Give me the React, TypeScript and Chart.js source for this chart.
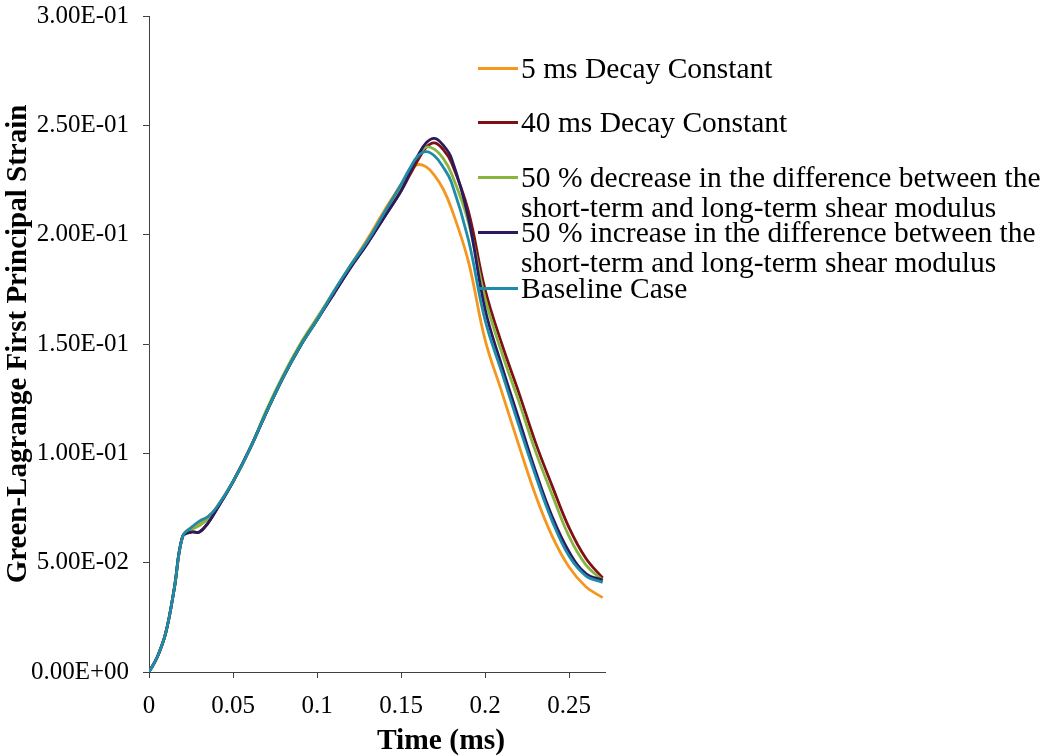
import React, { useEffect, useRef } from "react";
import { Chart, registerables } from "chart.js";

Chart.register(...registerables);

// ---- data ----
const time = [0, 0.005, 0.01, 0.015, 0.02, 0.025, 0.03, 0.035, 0.04, 0.05, 0.06, 0.07, 0.08, 0.09, 0.1, 0.11, 0.12, 0.13, 0.14, 0.15, 0.155, 0.16, 0.165, 0.17, 0.175, 0.18, 0.19, 0.2, 0.21, 0.22, 0.23, 0.24, 0.25, 0.26, 0.27];

const decay5ms = [0, 0.007, 0.018, 0.038, 0.062, 0.066, 0.068, 0.071, 0.075, 0.087, 0.102, 0.119, 0.135, 0.149, 0.161, 0.174, 0.186, 0.198, 0.211, 0.223, 0.229, 0.232, 0.231, 0.227, 0.221, 0.212, 0.188, 0.152, 0.128, 0.104, 0.081, 0.062, 0.048, 0.039, 0.034];
const decay40ms = [0, 0.007, 0.018, 0.038, 0.062, 0.064, 0.064, 0.068, 0.074, 0.087, 0.102, 0.119, 0.135, 0.149, 0.161, 0.173, 0.185, 0.196, 0.208, 0.220, 0.227, 0.234, 0.240, 0.242, 0.239, 0.233, 0.211, 0.175, 0.150, 0.128, 0.105, 0.085, 0.066, 0.052, 0.043];
const decrease50 = [0, 0.007, 0.018, 0.038, 0.062, 0.065, 0.067, 0.070, 0.075, 0.087, 0.102, 0.120, 0.136, 0.150, 0.162, 0.174, 0.186, 0.197, 0.209, 0.221, 0.229, 0.236, 0.240, 0.239, 0.235, 0.228, 0.206, 0.171, 0.146, 0.124, 0.101, 0.081, 0.062, 0.049, 0.042];
const increase50 = [0, 0.007, 0.018, 0.038, 0.062, 0.064, 0.064, 0.068, 0.074, 0.087, 0.102, 0.119, 0.135, 0.149, 0.161, 0.173, 0.185, 0.196, 0.208, 0.220, 0.228, 0.236, 0.242, 0.244, 0.241, 0.235, 0.208, 0.166, 0.140, 0.116, 0.092, 0.071, 0.055, 0.045, 0.042];
const baseline = [0, 0.007, 0.018, 0.038, 0.062, 0.066, 0.069, 0.071, 0.075, 0.087, 0.102, 0.119, 0.135, 0.149, 0.161, 0.174, 0.186, 0.197, 0.210, 0.223, 0.230, 0.236, 0.238, 0.236, 0.231, 0.224, 0.198, 0.161, 0.137, 0.113, 0.090, 0.069, 0.053, 0.044, 0.041];

const seriesLabels = [
  ["5 ms Decay Constant"],
  ["40 ms Decay Constant"],
  ["50 % decrease in the difference between the", "short-term and long-term shear modulus"],
  ["50 % increase in the difference between the", "short-term and long-term shear modulus"],
  ["Baseline Case"],
];
const seriesValues = [decay5ms, decay40ms, decrease50, increase50, baseline];

const xTickValues = [0, 0.05, 0.1, 0.15, 0.2, 0.25];
const yTickValues = [0, 0.05, 0.1, 0.15, 0.2, 0.25, 0.3];

const xTitle = "Time (ms)";
const yTitle = "Green-Lagrange First Principal Strain";

// ---- styles ----
const colors = ["#F5961E", "#7E1114", "#8AB440", "#2B1B5E", "#1E8CA8"];
const FONT = '"Liberation Serif", "Times New Roman", serif';
const legendTops = [53, 107, 162, 217, 273];

function sci(v: number): string {
  if (Math.abs(v) < 1e-12) return "0.00E+00";
  let exp = Math.floor(Math.log10(Math.abs(v)) + 1e-9);
  let m = v / Math.pow(10, exp);
  if (Math.round(m * 100) / 100 >= 10) {
    exp += 1;
    m = v / Math.pow(10, exp);
  }
  const e = Math.abs(exp).toString().padStart(2, "0");
  return `${m.toFixed(2)}E${exp < 0 ? "-" : "+"}${e}`;
}

const xTitlePlugin = {
  id: "xTitlePlugin",
  afterDraw(chart: any) {
    const { ctx } = chart;
    ctx.save();
    ctx.font = `bold 29.5px ${FONT}`;
    ctx.fillStyle = "#000";
    ctx.textAlign = "center";
    ctx.textBaseline = "middle";
    ctx.fillText(xTitle, 441, 741);
    ctx.restore();
  },
};

export default function App() {
  const ref = useRef<HTMLCanvasElement | null>(null);

  useEffect(() => {
    if (!ref.current) return;
    const chart = new Chart(ref.current, {
      type: "line",
      data: {
        datasets: seriesValues.map((vals, i) => ({
          label: seriesLabels[i].join(" "),
          data: time.map((t, j) => ({ x: t, y: vals[j] })),
          borderColor: colors[i],
          backgroundColor: colors[i],
          borderWidth: 2.8,
          pointRadius: 0,
          tension: 0.4,
          fill: false,
          order: seriesValues.length - i,
        })),
      },
      plugins: [xTitlePlugin],
      options: {
        animation: false,
        responsive: false,
        maintainAspectRatio: false,
        layout: { padding: { left: 0, right: 440, top: 16, bottom: 0 } },
        plugins: {
          legend: { display: false },
          tooltip: { enabled: false },
        },
        scales: {
          x: {
            type: "linear",
            min: 0,
            max: 0.2714,
            afterBuildTicks: (scale: any) => {
              scale.ticks = xTickValues.map((v) => ({ value: v }));
            },
            afterFit: (scale: any) => {
              scale.height = 84;
              scale.paddingLeft = 0;
              scale.paddingRight = 0;
            },
            ticks: {
              color: "#000",
              font: { family: FONT, size: 25 },
              padding: 13,
              maxRotation: 0,
              autoSkip: false,
              callback: (v: any) => String(Number(v)),
            },
            grid: { drawOnChartArea: false, drawTicks: true, tickLength: 6, color: "#404040" },
            border: { display: true, color: "#404040", width: 1 },
            title: { display: false },
          },
          y: {
            type: "linear",
            min: 0,
            max: 0.3,
            afterBuildTicks: (scale: any) => {
              scale.ticks = yTickValues.map((v) => ({ value: v }));
            },
            afterFit: (scale: any) => {
              scale.width = 149;
              scale.paddingTop = 0;
              scale.paddingBottom = 0;
            },
            ticks: {
              color: "#000",
              font: { family: FONT, size: 25 },
              padding: 14,
              autoSkip: false,
              callback: (v: any) => sci(Number(v)),
            },
            grid: { drawOnChartArea: false, drawTicks: true, tickLength: 6, color: "#404040" },
            border: { display: true, color: "#404040", width: 1 },
            title: {
              display: true,
              text: yTitle,
              color: "#000",
              font: { family: FONT, size: 29, weight: "bold" },
              padding: { top: 1, bottom: 0 },
            },
          },
        },
      },
    });
    return () => chart.destroy();
  }, []);

  return (
    <div style={{ position: "absolute", left: 0, top: 0, width: 1045, height: 756, background: "#fff", overflow: "hidden" }}>
      <canvas ref={ref} width={1045} height={756} style={{ position: "absolute", left: 0, top: 0 }} />
      {seriesLabels.map((lines, i) => (
        <div
          key={i}
          style={{
            position: "absolute",
            left: 478,
            top: legendTops[i],
            fontFamily: FONT,
            fontSize: 29.5,
            lineHeight: "30px",
            color: "#000",
            whiteSpace: "nowrap",
          }}
        >
          <span
            style={{
              position: "absolute",
              left: 0,
              top: 14,
              width: 40,
              height: 3,
              background: colors[i],
            }}
          />
          <div style={{ marginLeft: 43 }}>
            {lines.map((ln, k) => (
              <div key={k}>{ln}</div>
            ))}
          </div>
        </div>
      ))}
    </div>
  );
}
